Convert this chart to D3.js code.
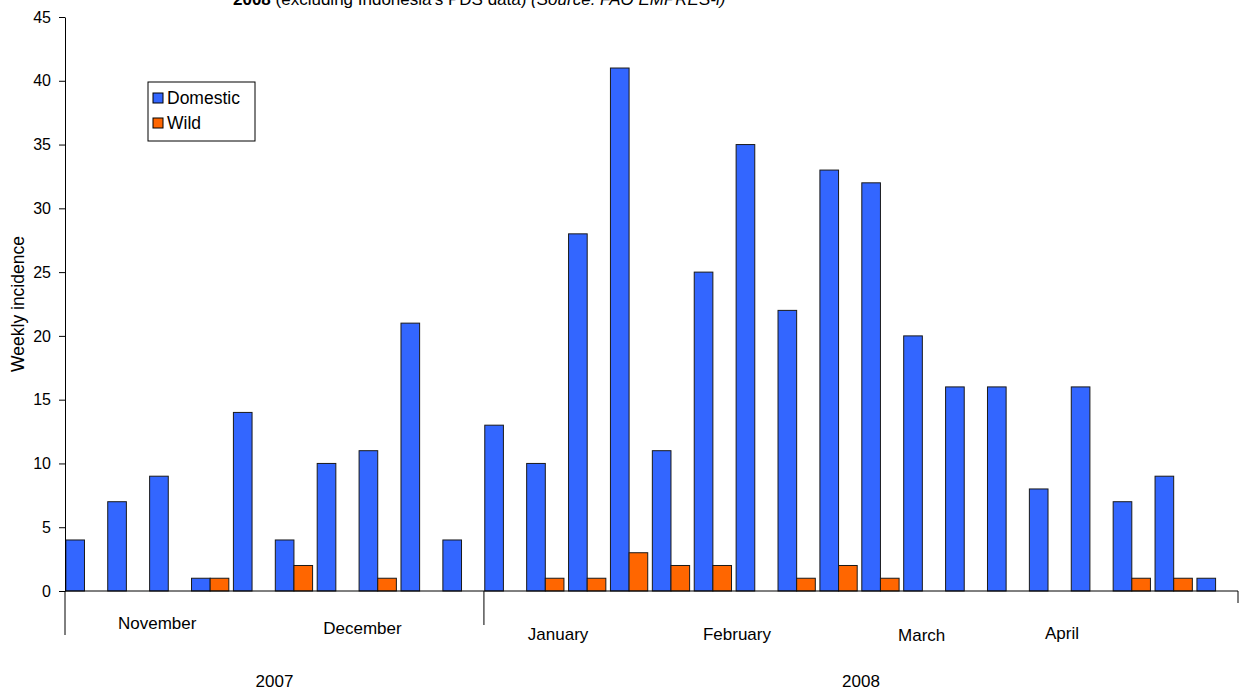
<!DOCTYPE html>
<html>
<head>
<meta charset="utf-8">
<script src="https://cdn.jsdelivr.net/npm/d3@7"></script>
<style>
  body { margin: 0; background: #fff; }
  svg { display: block; font-family: "Liberation Sans", Arial, sans-serif; }
</style>
</head>
<body>
<div id="chart"></div>
<script>
// weekly incidence, Nov 2007 - Apr 2008
const weeks = d3.range(1, 29);
const domestic = [4, 7, 9, 1, 14, 4, 10, 11, 21, 4, 13, 10, 28, 41, 11, 25, 35, 22, 33, 32, 20, 16, 16, 8, 16, 7, 9, 1];
const wild = [0, 0, 0, 1, 0, 2, 0, 1, 0, 0, 0, 1, 1, 3, 2, 2, 0, 1, 2, 1, 0, 0, 0, 0, 0, 1, 1, 0];

// month labels and where they sit (in week units from the start)
const months = ["November", "December", "January", "February", "March", "April"];
const monthPos = [2.2, 7.1, 11.77, 16.04, 20.45, 23.8];
const monthY = [623, 628, 634, 634, 635, 633];

const years = ["2007", "2008"];
const yearStart = [0, 10];
const yearEnd = [10, 28];
const yTicks = [0, 5, 10, 15, 20, 25, 30, 35, 40, 45];

const width = 1248, height = 691;
const plotLeft = 65, plotRight = 1238, plotTop = 17, plotBottom = 591;

const svg = d3.select("#chart").append("svg")
    .attr("width", width)
    .attr("height", height);

const x = d3.scaleBand().domain(d3.range(weeks.length)).range([plotLeft, plotRight]).padding(0);
const y = d3.scaleLinear().domain([0, 45]).range([plotBottom, plotTop]);
const unit = d3.scaleLinear().domain([0, weeks.length]).range([plotLeft, plotRight]);

const bw = x.bandwidth();
const barW = bw * 0.445;
const off = bw * 0.02;

// title (cut off at top of the picture, as in the source image)
const title = svg.append("text")
    .attr("x", 233)
    .attr("y", 5)
    .style("font-size", "17px")
    .style("fill", "#000");
title.append("tspan").style("font-weight", "bold").text("2008");
title.append("tspan").text(" (excluding Indonesia's PDS data) ");
title.append("tspan").style("font-style", "italic").text("(Source: FAO EMPRES-i)");

// domestic bars
svg.append("g").selectAll("rect")
    .data(domestic)
    .enter()
    .append("rect")
    .attr("x", (d, i) => x(i) + off)
    .attr("y", d => y(d))
    .attr("width", barW)
    .attr("height", d => y(0) - y(d))
    .attr("fill", "#3366FF")
    .attr("stroke", "#1a1a1a")
    .attr("stroke-width", 1);

// wild bars (only non-zero weeks)
svg.append("g").selectAll("rect")
    .data(wild.map((v, i) => ({ v: v, i: i })).filter(d => d.v > 0))
    .enter()
    .append("rect")
    .attr("x", d => x(d.i) + off + barW)
    .attr("y", d => y(d.v))
    .attr("width", barW)
    .attr("height", d => y(0) - y(d.v))
    .attr("fill", "#FF6600")
    .attr("stroke", "#1a1a1a")
    .attr("stroke-width", 1);

// y axis
const yAxis = svg.append("g")
    .attr("transform", `translate(${plotLeft},0)`)
    .call(d3.axisLeft(y).tickValues(yTicks).tickSize(6).tickPadding(8).tickSizeOuter(0));
yAxis.selectAll("text").style("font-size", "16px").style("fill", "#000")
    .style("font-family", "'Liberation Sans', Arial, sans-serif");
yAxis.selectAll("line, path").attr("stroke", "#000");

// x axis line
svg.append("line")
    .attr("x1", plotLeft).attr("x2", plotRight)
    .attr("y1", y(0)).attr("y2", y(0))
    .attr("stroke", "#000");

// year separators
const sepX = [yearStart[0], yearStart[1], yearEnd[1]];
const sepLen = [44, 34, 12];
svg.append("g").selectAll("line")
    .data(sepX)
    .enter()
    .append("line")
    .attr("x1", d => unit(d)).attr("x2", d => unit(d))
    .attr("y1", y(0))
    .attr("y2", (d, i) => y(0) + sepLen[i])
    .attr("stroke", "#000");

// month labels
svg.append("g").selectAll("text")
    .data(months)
    .enter()
    .append("text")
    .attr("x", (d, i) => unit(monthPos[i]))
    .attr("y", (d, i) => monthY[i] + 6)
    .attr("text-anchor", "middle")
    .style("font-size", "17px")
    .text(d => d);

// year labels
svg.append("g").selectAll("text")
    .data(years)
    .enter()
    .append("text")
    .attr("x", (d, i) => unit((yearStart[i] + yearEnd[i]) / 2))
    .attr("y", 687)
    .attr("text-anchor", "middle")
    .style("font-size", "17px")
    .text(d => d);

// y axis title
svg.append("text")
    .attr("transform", "translate(24,304) rotate(-90)")
    .attr("text-anchor", "middle")
    .style("font-size", "17.5px")
    .text("Weekly incidence");

// legend
const legend = svg.append("g").attr("transform", "translate(148,82)");
legend.append("rect")
    .attr("width", 107).attr("height", 59)
    .attr("fill", "#fff").attr("stroke", "#000");
const items = [{ name: "Domestic", color: "#3366FF" }, { name: "Wild", color: "#FF6600" }];
const li = legend.selectAll("g.item")
    .data(items)
    .enter()
    .append("g")
    .attr("class", "item")
    .attr("transform", (d, i) => `translate(5,${11 + i * 25})`);
li.append("rect")
    .attr("width", 10).attr("height", 10)
    .attr("fill", d => d.color).attr("stroke", "#000");
li.append("text")
    .attr("x", 14).attr("y", 11)
    .style("font-size", "17.5px")
    .text(d => d.name);
</script>
</body>
</html>
